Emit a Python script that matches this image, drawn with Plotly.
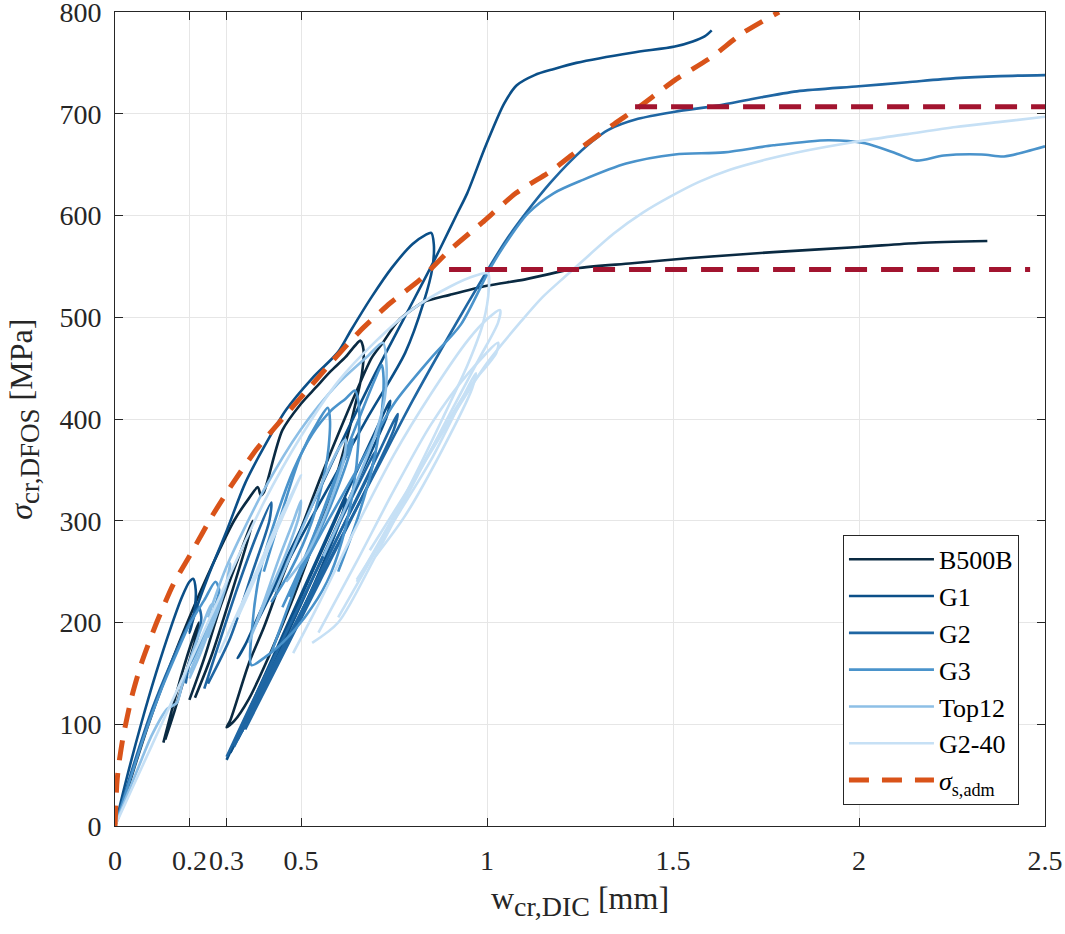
import plotly.graph_objects as go

# ---------------- data ----------------
W_B500B = [0, 0.02, 0.05, 0.09, 0.14, 0.2, 0.26, 0.32, 0.36, 0.384, 0.392, 0.40, 0.45, 0.50, 0.54, 0.58, 0.62, 0.645, 0.66, 0.668,
           0.664, 0.64, 0.60, 0.55, 0.48, 0.42, 0.36, 0.32, 0.30,
           0.31, 0.36, 0.40, 0.45, 0.50, 0.55, 0.60, 0.65, 0.69, 0.72, 0.76, 0.80, 0.83, 0.90, 1.0, 1.1, 1.24, 1.39, 1.54, 1.77, 2.0, 2.16, 2.345,
           None,
           0.13, 0.15, 0.18, 0.21, 0.225, 0.215, 0.19, 0.16, 0.135,
           None,
           0.20, 0.24, 0.28, 0.33, 0.37, 0.36, 0.31, 0.26, 0.215]
S_B500B = [0, 20, 55, 100, 150, 205, 255, 300, 322, 333, 325, 328, 389, 415, 431, 447, 461, 472, 477, 468,
           445, 405, 350, 295, 225, 172, 125, 103, 97,
           104, 160, 195, 245, 292, 340, 385, 428, 460, 475, 496, 508, 515, 522, 531, 537, 548, 553, 558, 564, 569, 573, 575,
           None,
           82, 110, 150, 185, 200, 182, 150, 113, 85,
           None,
           124, 165, 212, 262, 300, 285, 225, 168, 126]

W_G1 = [0, 0.03, 0.07, 0.11, 0.15, 0.18, 0.20, 0.21, 0.217, 0.214, 0.205, 0.20,
        0.22, 0.25, 0.30, 0.35, 0.40, 0.46, 0.53, 0.60, 0.634, 0.69, 0.745, 0.80, 0.835, 0.85, 0.857,
        0.853, 0.83, 0.78, 0.68, 0.53, 0.435, 0.36, 0.33,
        0.35, 0.40, 0.50, 0.60, 0.70, 0.80, 0.85, 0.88, 0.92, 0.947, 0.996, 1.046, 1.08, 1.128, 1.18, 1.24, 1.39, 1.505, 1.553, 1.585, 1.604,
        None,
        0.30, 0.35, 0.42, 0.50, 0.58, 0.62, 0.61, 0.52, 0.42, 0.31,
        None,
        0.31, 0.38, 0.46, 0.54, 0.62, 0.70, 0.74, 0.73, 0.64, 0.54, 0.44, 0.34]
S_G1 = [0, 45, 100, 150, 195, 225, 240, 243, 232, 212, 196, 190,
        215, 245, 290, 337, 372, 409, 440, 466, 487, 520, 549, 572, 581, 583, 572,
        548, 515, 465, 402, 304, 239, 185, 165,
        178, 218, 292, 370, 445, 515, 550, 572, 602, 622, 668, 710, 728, 738, 744, 750, 760, 766, 771, 776, 782,
        None,
        65, 105, 160, 225, 290, 322, 305, 225, 148, 72,
        None,
        72, 130, 195, 260, 325, 388, 418, 402, 330, 250, 170, 92]

W_G2 = [0, 0.05, 0.10, 0.15, 0.20, 0.225, 0.232, 0.222, 0.20, 0.19,
        None,
        0.30, 0.36, 0.44, 0.52, 0.60, 0.66, 0.70, 0.69, 0.60, 0.50, 0.40, 0.32,
        None,
        0.32, 0.40, 0.50, 0.60, 0.70, 0.80, 0.906, 0.996, 1.05, 1.11, 1.17, 1.226, 1.28, 1.325, 1.406, 1.505, 1.62, 1.72, 1.833, 2.0, 2.13, 2.26, 2.38, 2.5,
        None,
        0.24, 0.28, 0.33, 0.38, 0.42, 0.415, 0.37, 0.31, 0.25,
        None,
        0.33, 0.42, 0.52, 0.62, 0.70, 0.76, 0.75, 0.66, 0.55, 0.44, 0.35]
S_G2 = [0, 60, 115, 160, 200, 215, 205, 185, 160, 140,
        None,
        68, 115, 175, 235, 295, 340, 368, 352, 285, 210, 140, 80,
        None,
        78, 135, 208, 278, 348, 418, 487, 543, 575, 605, 632, 654, 672, 684, 695, 702, 708, 715, 722, 727, 731, 735, 737, 738,
        None,
        135, 180, 235, 285, 318, 300, 250, 185, 140,
        None,
        85, 150, 225, 300, 360, 405, 390, 320, 240, 160, 95]

W_G3 = [0, 0.04, 0.08, 0.12, 0.16, 0.20, 0.24, 0.27, 0.28, 0.265, 0.23, 0.20,
        None,
        0.367, 0.37, 0.39, 0.43, 0.48, 0.53, 0.58, 0.62, 0.645, 0.655, 0.655, 0.64, 0.61, 0.57, 0.51, 0.45, 0.40, 0.367,
        None,
        0.42, 0.50, 0.58, 0.65, 0.70, 0.717, 0.722, 0.715, 0.69, 0.65, 0.60,
        None,
        0.40, 0.45, 0.50, 0.55, 0.572, 0.578, 0.57, 0.53, 0.47, 0.42,
        None,
        0.47, 0.55, 0.65, 0.75, 0.85, 0.93, 1.01, 1.06, 1.11, 1.18, 1.258, 1.374, 1.505, 1.637, 1.77, 1.917, 2.016, 2.1, 2.153, 2.228, 2.33, 2.39, 2.45, 2.5,
        None,
        0.45, 0.50, 0.55, 0.60, 0.64, 0.63, 0.58, 0.52, 0.47]
S_G3 = [0, 45, 90, 130, 165, 198, 222, 240, 232, 212, 180, 158,
        None,
        158, 200, 250, 300, 350, 385, 408, 420, 428, 415, 380, 330, 280, 240, 205, 180, 165, 158,
        None,
        170, 250, 330, 395, 440, 453, 440, 400, 350, 300, 250,
        None,
        250, 310, 365, 400, 411, 398, 360, 300, 250, 220,
        None,
        230, 285, 350, 415, 460, 493, 549, 578, 602, 622, 635, 651, 660, 662, 669, 674, 671, 661, 654, 659, 660, 658, 663, 668,
        None,
        215, 255, 300, 345, 380, 365, 315, 265, 225]

W_Top12 = [0, 0.03, 0.06, 0.10, 0.14, 0.166, 0.18, 0.21, 0.24, 0.26, 0.27, 0.255, 0.23, 0.20,
           None,
           0.20, 0.24, 0.28, 0.30, 0.31, 0.305, 0.28, 0.25,
           None,
           0.43, 0.50, 0.56, 0.60, 0.62, 0.615, 0.58, 0.52, 0.46,
           None,
           0.25, 0.30, 0.40, 0.50, 0.60, 0.68, 0.72, 0.73, 0.725, 0.70, 0.64, 0.56,
           None,
           0.36, 0.40, 0.44, 0.48, 0.50, 0.495, 0.46, 0.41, 0.37]
S_Top12 = [0, 28, 55, 90, 115, 121, 138, 172, 202, 218, 214, 195, 170, 145,
           None,
           150, 185, 220, 240, 258, 245, 215, 185,
           None,
           230, 290, 340, 370, 380, 360, 320, 270, 240,
           None,
           205, 255, 330, 390, 435, 462, 475, 452, 420, 385, 330, 265,
           None,
           180, 220, 262, 300, 320, 305, 268, 225, 190]

W_G240 = [0, 0.05, 0.10, 0.15, 0.20, 0.30, 0.40, 0.50, 0.60, 0.70, 0.80, 0.90, 0.97, 1.003, 1.005, 0.99, 0.95, 0.88, 0.80, 0.70, 0.60,
          None,
          0.479, 0.55, 0.65, 0.75, 0.85, 0.95, 1.0, 1.035, 1.03, 0.98, 0.90, 0.80, 0.70, 0.60, 0.53,
          None,
          0.547, 0.65, 0.75, 0.85, 0.95, 1.03, 1.025, 0.95, 0.85, 0.75, 0.65,
          None,
          0.65, 0.75, 0.85, 0.97, 0.96, 0.88, 0.78, 0.70,
          None,
          0.685, 0.80, 0.90, 1.0, 1.094, 1.15, 1.21, 1.25, 1.34, 1.42, 1.49, 1.57, 1.653, 1.75, 1.833, 2.0, 2.13, 2.26, 2.38, 2.5,
          None,
          0.28, 0.33, 0.38, 0.43, 0.48, 0.50, 0.47, 0.40, 0.33]
S_G240 = [0, 40, 80, 120, 160, 240, 318, 383, 437, 476, 508, 530, 541, 543, 528, 495, 455, 400, 340, 270, 205,
          None,
          170, 220, 295, 365, 425, 478, 498, 507, 495, 460, 405, 335, 265, 200, 180,
          None,
          190, 260, 330, 395, 445, 475, 465, 430, 370, 305, 240,
          None,
          242, 300, 360, 445, 430, 370, 305, 265,
          None,
          271, 338, 398, 455, 497, 520, 540, 553, 582, 603, 618, 633, 645, 655, 662, 673, 680, 687, 692, 697,
          None,
          170, 210, 250, 292, 330, 345, 320, 262, 205]

W_adm = [0, 0.005, 0.010, 0.022, 0.045, 0.072, 0.112, 0.156, 0.206, 0.26, 0.317, 0.38, 0.44, 0.516, 0.587, 0.66,
         0.74, 0.82, 0.90, 0.987, 1.078, 1.177, 1.258, 1.342, 1.406, 1.505, 1.605, 1.686, 1.785]
S_adm = [0, 42, 60, 88, 127, 161, 200, 237, 269, 304, 337, 370, 396, 428, 458, 487,
         514, 537, 566, 593, 622, 645, 668, 690, 706, 733, 756, 779, 800]

W_lim1 = [0.898, 2.46]
S_lim1 = [547, 547]
W_lim2 = [1.398, 2.5]
S_lim2 = [707, 707]

series_names = ["B500B", "G1", "G2", "G3", "Top12", "G2-40"]
series_w = [W_B500B, W_G1, W_G2, W_G3, W_Top12, W_G240]
series_s = [S_B500B, S_G1, S_G2, S_G3, S_Top12, S_G240]
series_colors = ["#0a2a42", "#0b4f88", "#1f66a3", "#4a93cb", "#8dbfe6", "#c6e0f5"]

x_ticks = [0, 0.2, 0.3, 0.5, 1, 1.5, 2, 2.5]
x_ticktext = ["0", "0.2", "0.3", "0.5", "1", "1.5", "2", "2.5"]
y_ticks = [0, 100, 200, 300, 400, 500, 600, 700, 800]

FONT = "Liberation Serif"
TXT = "#262626"

fig = go.Figure()
for name, w, s, c in zip(series_names, series_w, series_s, series_colors):
    fig.add_trace(go.Scatter(x=w, y=s, mode="lines", name=name,
                             line=dict(color=c, width=2.6, shape="spline", smoothing=0.8),
                             connectgaps=False))

fig.add_trace(go.Scatter(x=W_adm, y=S_adm, mode="lines", name="<i>σ</i><sub>s,adm</sub>",
                         line=dict(color="#d95319", width=5, dash="20px,13px", shape="spline", smoothing=0.6)))
fig.add_trace(go.Scatter(x=W_lim1, y=S_lim1, mode="lines", showlegend=False,
                         line=dict(color="#a2142f", width=5, dash="22px,14px")))
fig.add_trace(go.Scatter(x=W_lim2, y=S_lim2, mode="lines", showlegend=False,
                         line=dict(color="#a2142f", width=5, dash="22px,14px")))

axis_common = dict(showline=True, linecolor=TXT, linewidth=1, mirror="ticks",
                   ticks="inside", ticklen=8, tickcolor=TXT, tickwidth=1,
                   showgrid=True, gridcolor="#e6e6e6", gridwidth=1, zeroline=False,
                   automargin=False, ticklabeloverflow="allow",
                   tickfont=dict(family=FONT, size=28, color=TXT))

fig.update_xaxes(range=[0, 2.5], tickvals=x_ticks, ticktext=x_ticktext, tickangle=0,
                 ticklabelstandoff=9,
                 title=dict(text="w<sub><span style='font-size:28px'>cr,DIC</span></sub> [mm]",
                            font=dict(family=FONT, size=32, color=TXT), standoff=12),
                 **axis_common)
fig.update_yaxes(range=[0, 800], tickvals=y_ticks, ticklabelstandoff=7, **axis_common)

fig.add_annotation(text="<i>σ</i><sub><span style='font-size:27px'>cr,DFOS</span></sub> [MPa]",
                   xref="paper", yref="paper", x=-0.098, y=0.5, xanchor="center", yanchor="middle",
                   textangle=-90, showarrow=False, font=dict(family=FONT, size=32, color=TXT))

fig.update_layout(
    width=1065, height=934,
    margin=dict(l=115, r=20, t=12, b=108, autoexpand=False),
    paper_bgcolor="white", plot_bgcolor="white",
    showlegend=True,
    legend=dict(x=0.972, y=0.026, xanchor="right", yanchor="bottom",
                bgcolor="white", bordercolor=TXT, borderwidth=1,
                font=dict(family=FONT, size=26, color="black"),
                itemwidth=85, tracegroupgap=0),
)

fig.write_html("out.html", config={"displayModeBar": False},
               post_script="document.body.style.margin='0';document.body.style.overflow='hidden';")
